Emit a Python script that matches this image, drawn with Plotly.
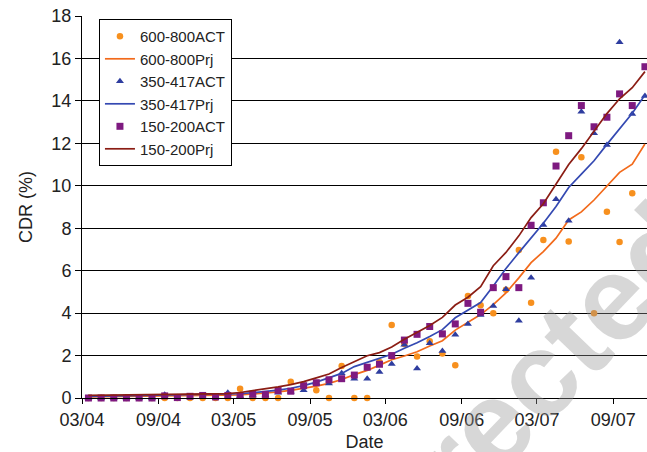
import pandas as pd
import plotly.graph_objects as go

# Monthly observations, 03/2004 .. 11/2007
MONTHS = pd.period_range("2004-03", "2007-11", freq="M").strftime("%Y-%m").tolist()

ACT_600_800 = [0, 0, 0, 0, 0, 0, 0, 0, 0, 0, 0, 0,
               0.43, 0, 0, 0, 0.77, 0.58, 0.37, 0, 1.51, 0, 0, 1.7,
               3.44, 2.55, 1.95, 2.67, 2.1, 1.54, 4.81, 4.37, 3.99, 5.1, 6.97, 4.49,
               7.45, 11.6, 7.37, 11.35, 3.99, 8.78, 7.35, 9.65, None]
PRJ_600_800 = [0.05, 0.06, 0.07, 0.08, 0.09, 0.1, 0.1, 0.11, 0.11, 0.12, 0.12, 0.13,
               0.15, 0.19, 0.23, 0.29, 0.36, 0.45, 0.56, 0.69, 0.87, 1.1, 1.3, 1.55,
               1.8, 1.98, 2.18, 2.45, 2.7, 3.2, 3.55, 3.93, 4.4, 4.95, 5.66, 6.38,
               6.9, 7.53, 8.39, 8.77, 9.33, 9.98, 10.63, 11.02, 11.97]
ACT_350_417 = [0, 0, 0, 0, 0, 0, 0.15, 0.03, 0.03, 0.05, 0.05, 0.25,
               0.1, 0.12, 0.12, 0.25, 0.3, 0.37, 0.7, 0.68, 1.17, 0.91, 0.91, 1.22,
               1.6, 2.51, 1.39, 2.58, 2.22, 2.98, 3.49, 3.91, 4.34, 5.13, 3.64, 5.67,
               8.15, 9.36, 8.35, 13.49, 12.47, 11.92, 16.76, 13.38, 14.23]
PRJ_350_417 = [0.08, 0.09, 0.11, 0.12, 0.13, 0.14, 0.15, 0.15, 0.15, 0.15, 0.16, 0.17,
               0.2, 0.25, 0.3, 0.37, 0.46, 0.58, 0.75, 0.95, 1.16, 1.48, 1.68, 1.88,
               2.06, 2.34, 2.6, 2.9, 3.22, 3.78, 4.15, 4.5, 5.28, 6.1, 6.85, 7.55,
               8.23, 9.02, 9.92, 10.55, 11.18, 11.95, 12.67, 13.42, 14.28]
ACT_150_200 = [0, 0, 0, 0, 0, 0, 0.1, 0.02, 0.08, 0.12, 0.05, 0.12,
               0.12, 0.18, 0.17, 0.35, 0.32, 0.58, 0.72, 0.86, 0.91, 1.08, 1.45, 1.59,
               2.0, 2.73, 3.0, 3.37, 3.02, 3.49, 4.46, 4.04, 5.2, 5.72, 5.2, 8.14,
               9.2, 10.93, 12.36, 13.78, 12.78, 13.23, 14.33, 13.78, 15.61]
PRJ_150_200 = [0.12, 0.13, 0.15, 0.16, 0.17, 0.18, 0.19, 0.2, 0.2, 0.2, 0.2, 0.21,
               0.26, 0.34, 0.44, 0.52, 0.63, 0.77, 0.95, 1.13, 1.44, 1.73, 1.99, 2.14,
               2.4, 2.77, 3.08, 3.42, 3.8, 4.38, 4.75, 5.25, 6.23, 6.86, 7.64, 8.5,
               9.15, 10.05, 11.0, 11.75, 12.55, 13.4, 14.1, 14.62, 15.38]

FONT = "Liberation Sans, Arial, sans-serif"

series = [
    ("600-800ACT", ACT_600_800, "markers", dict(symbol="circle", size=6.5, color="#F7901E"), None),
    ("600-800Prj", PRJ_600_800, "lines", None, dict(color="#F26A1B", width=1.7)),
    ("350-417ACT", ACT_350_417, "markers", dict(symbol="triangle-up", size=7, color="#2E3D9F"), None),
    ("350-417Prj", PRJ_350_417, "lines", None, dict(color="#3449B2", width=1.7)),
    ("150-200ACT", ACT_150_200, "markers", dict(symbol="square", size=7, color="#7E1A80"), None),
    ("150-200Prj", PRJ_150_200, "lines", None, dict(color="#8B1D14", width=1.7)),
]

fig = go.Figure()
for name, vals, mode, marker, line in series:
    fig.add_trace(go.Scatter(
        x=MONTHS, y=vals, name=name, mode=mode,
        marker=marker, line=line,
        xperiod="M1", xperiodalignment="middle",
        cliponaxis=(mode == "lines"),
    ))

fig.update_layout(
    width=647, height=452,
    margin=dict(l=82, r=0, t=16, b=54),
    paper_bgcolor="white", plot_bgcolor="white",
    font=dict(family=FONT, size=18, color="#222"),
    showlegend=True,
    legend=dict(
        x=0.03, y=0.992, xanchor="left", yanchor="top",
        bgcolor="white", bordercolor="black", borderwidth=1,
        font=dict(family=FONT, size=15, color="#222"),
        tracegroupgap=0,
    ),
    xaxis=dict(
        type="date",
        range=["2004-03-01", "2007-11-21"],
        tick0="2004-03-01", dtick="M6", tickformat="%m/%y",
        showgrid=False, showline=True, linecolor="black", linewidth=1,
        ticks="outside", ticklen=5, tickcolor="black",
        tickfont=dict(size=18), ticklabeloverflow="allow",
        title=dict(text="Date", font=dict(size=18), standoff=6),
        zeroline=False,
    ),
    yaxis=dict(
        range=[0, 18], dtick=2,
        showgrid=True, gridcolor="black", gridwidth=1,
        showline=True, linecolor="black", linewidth=1,
        ticks="outside", ticklen=6, tickcolor="black",
        tickfont=dict(size=18), ticklabeloverflow="allow",
        title=dict(text="CDR (%)", font=dict(size=18), standoff=14),
        zeroline=False,
    ),
    annotations=[dict(
        text="<b>Uncorrected</b>", xref="paper", yref="paper",
        x=(438 - 82) / 565, y=(398 - 478) / 382,
        xanchor="center", yanchor="middle",
        textangle=-46, showarrow=False,
        font=dict(family=FONT, size=120, color="rgba(150,150,150,0.38)"),
    )],
)

# Remove the page's default 8px body margin so the 647x452 figure fills the window.
fig.write_html(
    "out.html",
    config={"displayModeBar": False},
    post_script="document.body.style.margin='0';document.body.style.overflow='hidden';",
)
